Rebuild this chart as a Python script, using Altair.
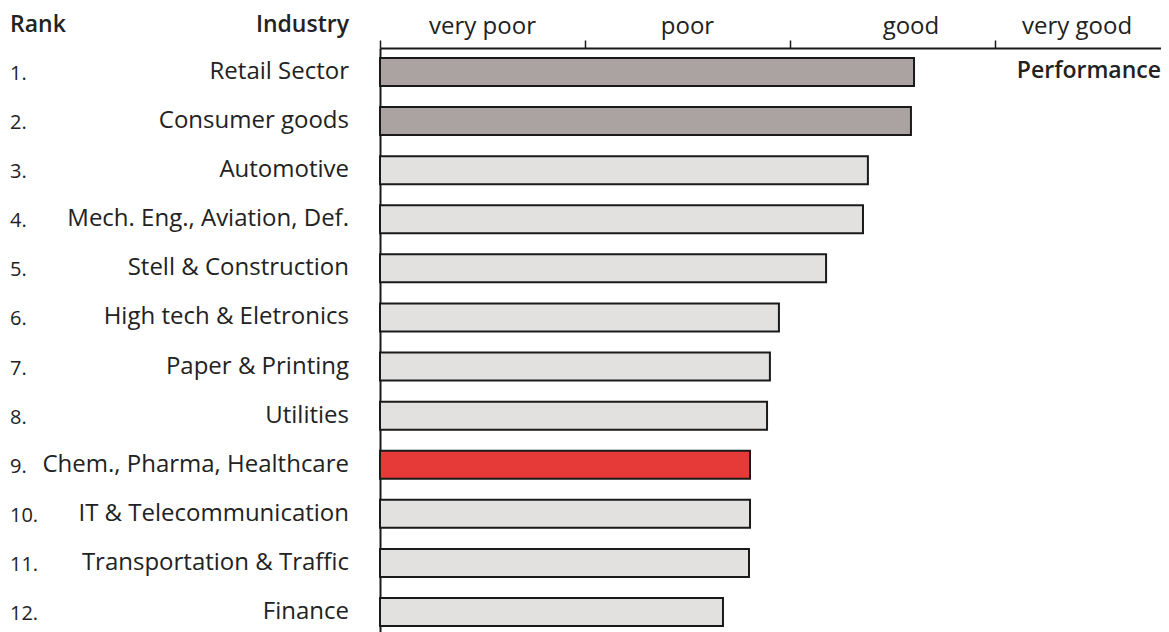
import altair as alt
import pandas as pd

ranks = ["1.", "2.", "3.", "4.", "5.", "6.", "7.", "8.", "9.", "10.", "11.", "12."]
industries = [
    "Retail Sector", "Consumer goods", "Automotive", "Mech. Eng., Aviation, Def.",
    "Stell & Construction", "High tech & Eletronics", "Paper & Printing", "Utilities",
    "Chem., Pharma, Healthcare", "IT & Telecommunication", "Transportation & Traffic", "Finance",
]
performance = [2.605, 2.590, 2.380, 2.356, 2.176, 1.946, 1.902, 1.888, 1.805, 1.805, 1.800, 1.673]
groups = ["top", "top", "other", "other", "other", "other", "other", "other",
          "focus", "other", "other", "other"]
rating_labels = ["very poor", "poor", "good", "very good"]
rating_pos = [0.50, 1.50, 2.59, 3.40]
tick_values = [0, 1, 2, 3]

FONT = "Open Sans"
TXT = "#222222"
W, H = 781, 588

df = pd.DataFrame({"rank": ranks, "industry": industries, "perf": performance, "group": groups})
ratings = pd.DataFrame({"label": rating_labels, "pos": rating_pos})

xscale = alt.Scale(domain=[0, W / 205], nice=False, zero=False)
yenc = alt.Y("industry:N", sort=industries,
             scale=alt.Scale(paddingInner=0.43, paddingOuter=0.204),
             axis=alt.Axis(labels=False, ticks=False, title=None, domain=True,
                           domainColor="#1a1a1a", domainWidth=2, grid=False))

bars = alt.Chart(df).mark_bar(stroke="#1a1a1a", strokeWidth=2).encode(
    x=alt.X("perf:Q", scale=xscale,
            axis=alt.Axis(orient="top", values=tick_values, labels=False, title=None,
                          tickSize=8, tickWidth=1.5, tickColor="#1a1a1a",
                          domainColor="#1a1a1a", domainWidth=2, grid=False)),
    y=yenc,
    color=alt.Color("group:N", scale=alt.Scale(domain=["top", "other", "focus"],
                                               range=["#aba3a1", "#e2e1e0", "#e53a37"]),
                    legend=None),
)

ind_text = alt.Chart(df).mark_text(align="right", baseline="middle", font=FONT,
                                   fontSize=24, color=TXT).encode(
    x=alt.value(-31), y=yenc, text="industry:N")

rank_text = alt.Chart(df).mark_text(align="left", baseline="middle", font=FONT,
                                    fontSize=20, color=TXT, dy=2).encode(
    x=alt.value(-370), y=yenc, text="rank:N")

rating_text = alt.Chart(ratings).mark_text(align="center", baseline="middle", font=FONT,
                                           fontSize=24, color=TXT).encode(
    x=alt.X("pos:Q", scale=xscale), y=alt.value(-21), text="label:N")

hdr_rank = alt.Chart(pd.DataFrame({"t": ["Rank"]})).mark_text(
    align="left", baseline="middle", font=FONT, fontSize=23, fontWeight=600, color=TXT
).encode(x=alt.value(-370), y=alt.value(-23), text="t:N")

hdr_ind = alt.Chart(pd.DataFrame({"t": ["Industry"]})).mark_text(
    align="right", baseline="middle", font=FONT, fontSize=23, fontWeight=600, color=TXT
).encode(x=alt.value(-31), y=alt.value(-23), text="t:N")

hdr_perf = alt.Chart(pd.DataFrame({"t": ["Performance"]})).mark_text(
    align="right", baseline="middle", font=FONT, fontSize=23, fontWeight=600, color=TXT
).encode(x=alt.value(W), y=alt.value(23), text="t:N")

chart = alt.layer(bars, ind_text, rank_text, rating_text, hdr_rank, hdr_ind, hdr_perf).properties(
    width=W, height=H,
    autosize=alt.AutoSizeParams(type="none"),
    padding={"left": 372, "top": 40, "right": 0, "bottom": 0},
).configure_view(stroke=None)

chart.save("out.html", embed_options={"renderer": "svg", "actions": False})
